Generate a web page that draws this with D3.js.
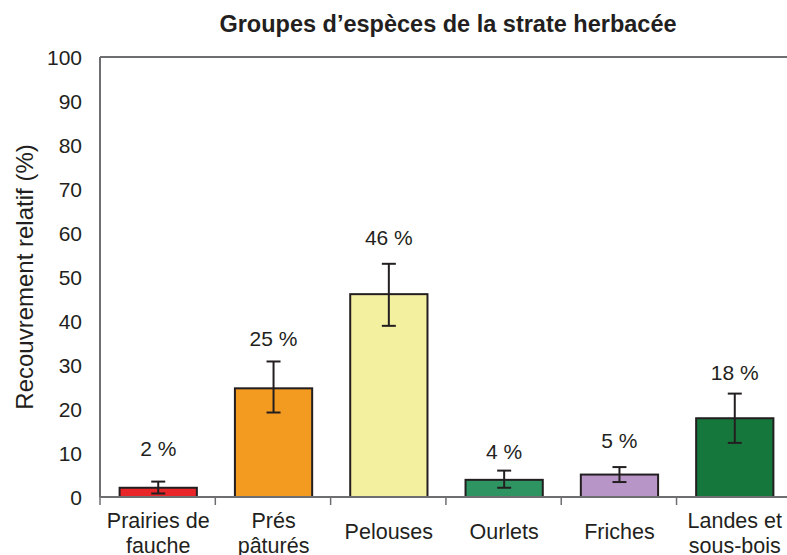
<!DOCTYPE html>
<html>
<head>
<meta charset="utf-8">
<script src="https://cdn.jsdelivr.net/npm/d3@7"></script>
<style>
  body { margin: 0; background: #fff; }
  svg text { font-family: "Liberation Sans", Arial, sans-serif; fill: #231f20; }
</style>
</head>
<body>
<svg width="787" height="555"></svg>
<script>
var categories = [["Prairies de", "fauche"], ["Prés", "pâturés"], ["Pelouses"], ["Ourlets"], ["Friches"], ["Landes et", "sous-bois"]];
var values = [2.1, 24.7, 46.1, 3.9, 5.1, 17.9];
var errLow = [0.8, 19.2, 38.9, 2.1, 3.4, 12.3];
var errHigh = [3.5, 30.8, 53.0, 6.0, 6.8, 23.5];
var labels = ["2 %", "25 %", "46 %", "4 %", "5 %", "18 %"];
var colors = ["#e8262a", "#f39a21", "#f3f0a0", "#2e9462", "#b795c6", "#16773c"];
var yTicks = [0, 10, 20, 30, 40, 50, 60, 70, 80, 90, 100];

var svg = d3.select("svg");

var plotLeft = 100, plotTop = 57, plotBottom = 497, plotRight = 793;

var x = d3.scaleBand()
    .domain(d3.range(categories.length))
    .range([plotLeft, plotRight])
    .paddingInner(0.33)
    .paddingOuter(0.17);

var y = d3.scaleLinear().domain([0, 100]).range([plotBottom, plotTop]);

var data = values.map(function(v, i) {
  return {i: i, v: v, lo: errLow[i], hi: errHigh[i], label: labels[i], color: colors[i], cat: categories[i]};
});

// title
svg.append("text")
    .attr("x", 448).attr("y", 32)
    .attr("text-anchor", "middle")
    .style("font-size", "23.5px")
    .style("font-weight", "bold")
    .text("Groupes d’espèces de la strate herbacée");

// y axis title
svg.append("text")
    .attr("transform", "translate(33,277) rotate(-90)")
    .attr("text-anchor", "middle")
    .style("font-size", "24px")
    .text("Recouvrement relatif (%)");

// frame: top and left lines
svg.append("line")
    .attr("x1", plotLeft).attr("x2", 787)
    .attr("y1", plotTop).attr("y2", plotTop)
    .attr("stroke", "#6d6e70").attr("stroke-width", 2);
svg.append("line")
    .attr("x1", plotLeft).attr("x2", plotLeft)
    .attr("y1", plotTop).attr("y2", plotBottom)
    .attr("stroke", "#6d6e70").attr("stroke-width", 2);

// y tick labels
svg.selectAll(".ytick").data(yTicks)
  .enter().append("text")
    .attr("class", "ytick")
    .attr("x", 82)
    .attr("y", function(d) { return y(d); })
    .attr("dy", "0.36em")
    .attr("text-anchor", "end")
    .style("font-size", "21px")
    .text(function(d) { return d; });

// bars
svg.selectAll(".bar").data(data)
  .enter().append("rect")
    .attr("class", "bar")
    .attr("x", function(d) { return x(d.i); })
    .attr("width", x.bandwidth())
    .attr("y", function(d) { return y(d.v); })
    .attr("height", function(d) { return y(0) - y(d.v); })
    .attr("fill", function(d) { return d.color; })
    .attr("stroke", "#231f20")
    .attr("stroke-width", 2);

// error bars
var cx = function(d) { return x(d.i) + x.bandwidth() / 2; };
var eb = svg.selectAll(".err").data(data).enter().append("g")
    .attr("stroke", "#231f20").attr("stroke-width", 2);
eb.append("line")
    .attr("x1", cx).attr("x2", cx)
    .attr("y1", function(d) { return y(d.lo); })
    .attr("y2", function(d) { return y(d.hi); });
eb.append("line")
    .attr("x1", function(d) { return cx(d) - 7; })
    .attr("x2", function(d) { return cx(d) + 7; })
    .attr("y1", function(d) { return y(d.hi); })
    .attr("y2", function(d) { return y(d.hi); });
eb.append("line")
    .attr("x1", function(d) { return cx(d) - 7; })
    .attr("x2", function(d) { return cx(d) + 7; })
    .attr("y1", function(d) { return y(d.lo); })
    .attr("y2", function(d) { return y(d.lo); });

// value labels, gap above the error bar
var gaps = [26, 15, 19, 12, 19, 14];
svg.selectAll(".vlab").data(data)
  .enter().append("text")
    .attr("class", "vlab")
    .attr("x", cx)
    .attr("y", function(d) { return y(d.hi) - gaps[d.i]; })
    .attr("text-anchor", "middle")
    .style("font-size", "21px")
    .text(function(d) { return d.label; });

// x axis line and ticks
svg.append("line")
    .attr("x1", plotLeft).attr("x2", 787)
    .attr("y1", plotBottom).attr("y2", plotBottom)
    .attr("stroke", "#6d6e70").attr("stroke-width", 2);
var step = x.step();
svg.selectAll(".xtick").data(d3.range(categories.length))
  .enter().append("line")
    .attr("x1", function(d) { return x(d) - x.paddingOuter() * step; })
    .attr("x2", function(d) { return x(d) - x.paddingOuter() * step; })
    .attr("y1", plotBottom).attr("y2", plotBottom + 8)
    .attr("stroke", "#6d6e70").attr("stroke-width", 1.5);

// category labels
var cl = svg.selectAll(".cat").data(data)
  .enter().append("text")
    .attr("class", "cat")
    .attr("text-anchor", "middle")
    .style("font-size", "21.5px");
cl.each(function(d) {
  var t = d3.select(this);
  d.cat.forEach(function(line, k) {
    t.append("tspan")
      .attr("x", cx(d))
      .attr("y", d.cat.length === 1 ? 539 : 528 + k * 25)
      .text(line);
  });
});
</script>
</body>
</html>
